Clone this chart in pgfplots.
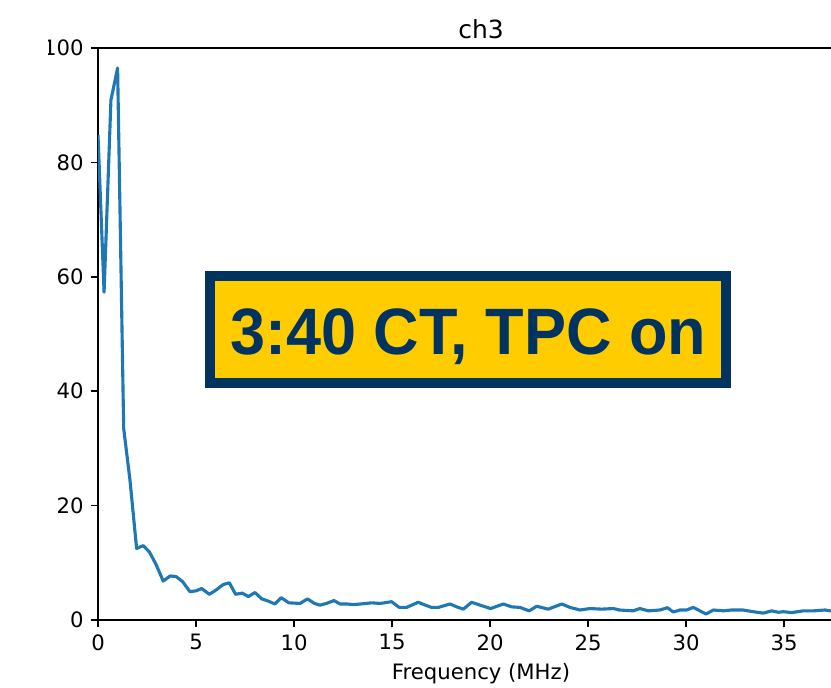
\documentclass[border=0pt]{standalone}
\usepackage{pgfplots}
\pgfplotsset{compat=1.18}
\usepackage{fontspec}
\setmainfont{DejaVu Sans}
\newfontfamily\boxfont[FakeStretch=0.96]{Liberation Sans}
\definecolor{navy}{RGB}{0,51,96}
\definecolor{gold}{RGB}{255,204,0}
\definecolor{mplblue}{RGB}{31,119,180}
\begin{document}
\begin{tikzpicture}
\useasboundingbox (-49pt,-33.5pt) rectangle (366.5pt,310pt);
\clip (-24.5pt,-33.5pt) rectangle (366.5pt,310pt);
\begin{axis}[
  at={(0,0)}, anchor=south west,
  scale only axis, width=383pt, height=286pt,
  xmin=0, xmax=39.08, ymin=0, ymax=100,
  xtick={0,5,...,35}, ytick={0,20,...,100},
  tick align=outside, tick pos=left, major tick length=3.65pt,
  every tick/.append style={black, line width=0.83pt},
  axis line style={line width=0.83pt},
  tick label style={font=\fontsize{10.6}{12}\selectfont},
  /pgf/number format/assume math mode=true,
  title={ch3},
  title style={font=\fontsize{12.5}{15}\selectfont, at={(0.5,1)}, anchor=base, yshift=-1.5pt},
  xlabel={Frequency (MHz)},
  xlabel style={font=\fontsize{10.6}{12}\selectfont, at={(axis description cs:0.5,0)}, anchor=base, yshift=-29.5pt},
]
\addplot[mplblue, line width=1.56pt, line join=round, mark=none] coordinates {
(0,84.8) (0.31,57.3) (0.66,90.9) (1.0,96.5) (1.31,33.5) (1.63,24.5) (1.97,12.5)
(2.31,13.0) (2.62,11.9) (2.95,9.8) (3.33,6.8) (3.68,7.7) (3.98,7.6) (4.32,6.7)
(4.69,4.95) (5.0,5.1) (5.29,5.5) (5.68,4.5) (6.05,5.3) (6.39,6.2) (6.70,6.5)
(7.02,4.5) (7.36,4.7) (7.67,4.1) (8.01,4.8) (8.35,3.7) (8.69,3.3) (9.03,2.8)
(9.34,3.9) (9.74,3.0) (10.31,2.9) (10.69,3.7) (11.04,2.9) (11.33,2.6) (11.66,2.9)
(12.04,3.4) (12.35,2.8) (12.7,2.8) (13.03,2.7) (13.4,2.8) (13.96,3.0) (14.39,2.9)
(14.98,3.2) (15.37,2.2) (15.74,2.2) (16.34,3.1) (16.7,2.6) (17.02,2.2) (17.36,2.2)
(17.96,2.8) (18.3,2.3) (18.64,1.9) (19.06,3.1) (19.49,2.6) (20.03,2.0) (20.68,2.8)
(21.10,2.3) (21.53,2.2) (22.0,1.6) (22.38,2.4) (22.97,1.9) (23.66,2.8) (24.08,2.2)
(24.59,1.75) (25.1,2.0) (25.7,1.9) (26.3,2.0) (26.6,1.75) (27.3,1.6) (27.65,2.0)
(28.08,1.6) (28.67,1.75) (29.05,2.15) (29.35,1.4) (29.69,1.75) (30.03,1.75) (30.37,2.2)
(30.71,1.6) (31.02,1.05) (31.4,1.75) (31.9,1.6) (32.33,1.75) (32.9,1.75) (33.43,1.45)
(33.94,1.2) (34.37,1.6) (34.71,1.35) (34.96,1.45) (35.39,1.3) (35.98,1.6) (36.5,1.6)
(37.09,1.75) (37.35,1.6) (37.8,1.5) (38.3,1.6) (38.8,1.5) (39.08,1.5)
};
\node[draw=navy, fill=gold, line width=5pt, minimum width=258pt, minimum height=53.5pt,
  inner sep=0pt, text height=25.5pt, text depth=0pt, text=navy,
  font=\boxfont\bfseries\fontsize{32.8}{36}\selectfont]
  at (axis cs:18.88,50.79) {3:40 CT, TPC on};
\end{axis}
\end{tikzpicture}
\end{document}
